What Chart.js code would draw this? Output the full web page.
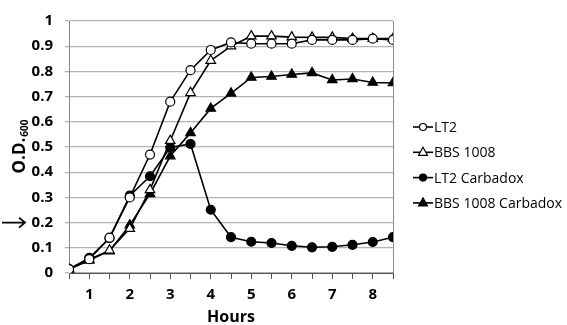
<!DOCTYPE html>
<html>
<head>
<meta charset="utf-8">
<script src="https://cdn.jsdelivr.net/npm/chart.js@4/dist/chart.umd.min.js"></script>
<style>
  html, body { margin: 0; padding: 0; background: #fff; }
  #wrap { width: 567px; height: 325px; }
</style>
</head>
<body>
<div id="wrap"><canvas id="growth" width="567" height="325"></canvas></div>
<script>
// sampling times (hours)
const hours = [0.5, 1, 1.5, 2, 2.5, 3, 3.5, 4, 4.5, 5, 5.5, 6, 6.5, 7, 7.5, 8, 8.5];

// O.D.600 readings
const lt2 = [0.015, 0.055, 0.14, 0.30, 0.47, 0.68, 0.805, 0.885, 0.915, 0.91, 0.91, 0.91, 0.925, 0.925, 0.925, 0.93, 0.925];
const bbs1008 = [0.015, 0.05, 0.09, 0.176, 0.33, 0.525, 0.715, 0.843, 0.90, 0.94, 0.94, 0.936, 0.935, 0.935, 0.93, 0.93, 0.93];
const lt2Carbadox = [0.015, 0.06, 0.138, 0.307, 0.384, 0.498, 0.512, 0.251, 0.142, 0.124, 0.119, 0.108, 0.102, 0.104, 0.112, 0.123, 0.142];
const bbsCarbadox = [0.015, 0.055, 0.087, 0.19, 0.314, 0.464, 0.556, 0.653, 0.713, 0.776, 0.78, 0.788, 0.794, 0.766, 0.77, 0.756, 0.754];

const seriesNames = ["LT2", "BBS 1008", "LT2 Carbadox", "BBS 1008 Carbadox"];
const xTickLabels = ["1", "2", "3", "4", "5", "6", "7", "8"];

const FONT = "'Open Sans', 'DejaVu Sans', sans-serif";

function toPoints(vals) {
    return vals.map((v, i) => ({ x: hours[i], y: v }));
}

function makeSet(label, vals, style, filled) {
    return {
        label: label,
        data: toPoints(vals),
        borderColor: "#000",
        borderWidth: 1.6,
        pointStyle: style,
        pointRadius: style === "triangle" ? 5.5 : 4.5,
        pointBorderWidth: 1.2,
        pointBorderColor: "#000",
        pointBackgroundColor: filled ? "#000" : "#fff",
        tension: 0,
    };
}

// extras: right border, arrow at 0.2, y title with subscript, legend with line+marker
const extras = {
    id: "extras",
    afterDraw(chart) {
        const ctx = chart.ctx;
        const area = chart.chartArea;
        const ys = chart.scales.y;
        ctx.save();

        // right border of plot
        ctx.strokeStyle = "#8c8c8c";
        ctx.lineWidth = 1;
        ctx.beginPath();
        ctx.moveTo(Math.round(area.right) + 0.5, area.top);
        ctx.lineTo(Math.round(area.right) + 0.5, area.bottom);
        ctx.stroke();

        // arrow pointing at 0.2
        const ay = ys.getPixelForValue(0.2);
        ctx.strokeStyle = "#000";
        ctx.lineWidth = 1.8;
        ctx.beginPath();
        ctx.moveTo(2, ay);
        ctx.lineTo(25, ay);
        ctx.moveTo(19, ay - 5);
        ctx.lineTo(25, ay);
        ctx.lineTo(19, ay + 5);
        ctx.stroke();

        // y title O.D.600
        ctx.translate(20, (area.top + area.bottom) / 2);
        ctx.rotate(-Math.PI / 2);
        ctx.fillStyle = "#000";
        ctx.textBaseline = "middle";
        ctx.font = "bold 17px " + FONT;
        const main = "O.D.";
        const sub = "600";
        const w1 = ctx.measureText(main).width;
        ctx.font = "bold 10px " + FONT;
        const w2 = ctx.measureText(sub).width;
        const start = -(w1 + w2) / 2;
        ctx.font = "bold 17px " + FONT;
        ctx.textAlign = "left";
        ctx.fillText(main, start, 0);
        ctx.font = "bold 10px " + FONT;
        ctx.fillText(sub, start + w1 + 1, 5);
        ctx.restore();

        // legend
        ctx.save();
        const lx = 413, ly0 = 127, gap = 25.3;
        chart.data.datasets.forEach((ds, i) => {
            const y = ly0 + i * gap;
            ctx.strokeStyle = "#000";
            ctx.lineWidth = 1.6;
            ctx.beginPath();
            ctx.moveTo(lx, y);
            ctx.lineTo(lx + 20, y);
            ctx.stroke();
            ctx.fillStyle = ds.pointBackgroundColor;
            ctx.lineWidth = 1.2;
            ctx.beginPath();
            if (ds.pointStyle === "triangle") {
                ctx.moveTo(lx + 10, y - 5);
                ctx.lineTo(lx + 14.5, y + 3);
                ctx.lineTo(lx + 5.5, y + 3);
                ctx.closePath();
            } else {
                ctx.arc(lx + 10, y, 3.5, 0, Math.PI * 2);
            }
            ctx.fill();
            ctx.stroke();
            ctx.fillStyle = "#000";
            ctx.font = "14px " + FONT;
            ctx.textAlign = "left";
            ctx.textBaseline = "middle";
            ctx.fillText(ds.label, lx + 21, y + 1);
        });
        ctx.restore();
    },
};

const config = {
    type: "line",
    data: {
        datasets: [
            makeSet(seriesNames[0], lt2, "circle", false),
            makeSet(seriesNames[1], bbs1008, "triangle", false),
            makeSet(seriesNames[2], lt2Carbadox, "circle", true),
            makeSet(seriesNames[3], bbsCarbadox, "triangle", true),
        ],
    },
    options: {
        responsive: false,
        animation: false,
        layout: { padding: { top: 7, right: 174, left: 0, bottom: 0 } },
        plugins: {
            legend: { display: false },
            tooltip: { enabled: false },
        },
        scales: {
            x: {
                type: "linear",
                min: 0.5,
                max: 8.5,
                afterFit(scale) { scale.height = 52; },
                afterBuildTicks(scale) {
                    scale.ticks = hours.map((h) => ({ value: h }));
                },
                ticks: {
                    autoSkip: false,
                    maxRotation: 0,
                    color: "#000",
                    padding: 7,
                    font: { family: FONT, size: 15, weight: "bold" },
                    callback: (v) => xTickLabels.includes(String(v)) ? String(v) : "",
                },
                grid: { drawOnChartArea: false, drawTicks: true, tickLength: 6, color: "#555" },
                border: { color: "#555", width: 1 },
                title: {
                    display: true,
                    text: "Hours",
                    color: "#000",
                    padding: { top: 0, bottom: -2 },
                    font: { family: FONT, size: 16, weight: "bold" },
                },
            },
            y: {
                min: 0,
                max: 1,
                afterFit(scale) { scale.width = 69; },
                ticks: {
                    stepSize: 0.1,
                    color: "#000",
                    padding: 12,
                    font: { family: FONT, size: 15, weight: "bold" },
                    callback: (v) => String(Math.round(v * 10) / 10),
                },
                grid: { color: "#b3b3b3", lineWidth: 1.3, drawTicks: true, tickLength: 4 },
                border: { color: "#888", width: 1 },
            },
        },
    },
    plugins: [extras],
};

const growthChart = new Chart(document.getElementById("growth"), config);
</script>
</body>
</html>
